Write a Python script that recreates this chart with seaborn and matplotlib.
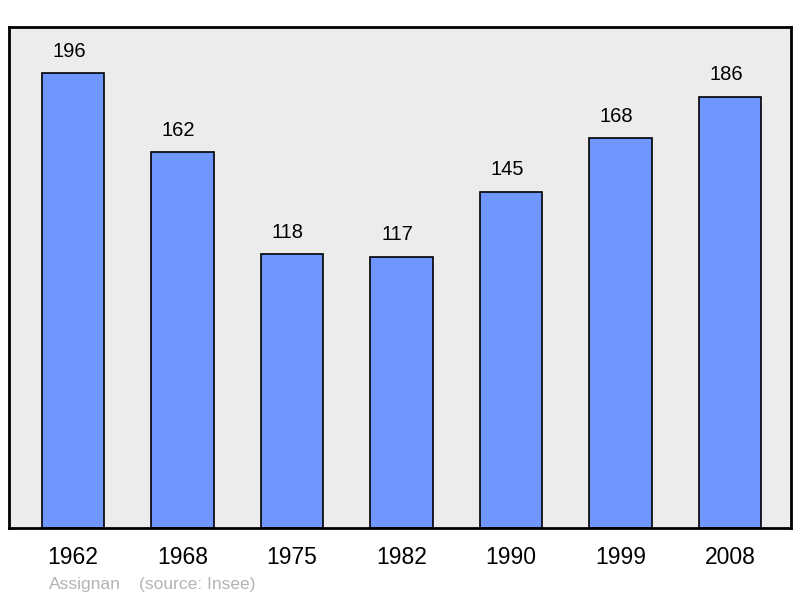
import matplotlib
matplotlib.use("Agg")
import matplotlib.pyplot as plt
import seaborn as sns
import pandas as pd

years = ["1962", "1968", "1975", "1982", "1990", "1999", "2008"]
population = [196, 162, 118, 117, 145, 168, 186]
town = "Assignan"
source = "(source: Insee)"

sns.set_theme(style="white")
plt.rcParams['font.family'] = ['Liberation Sans', 'DejaVu Sans']

df = pd.DataFrame({"year": years, "pop": population})

fig = plt.figure(figsize=(8, 5.98), dpi=100)
ax = fig.add_axes([9/800, 1 - 528/598, 782/800, 501/598])
ax.set_facecolor("#ececec")

sns.barplot(data=df, x="year", y="pop", color="#7097ff", saturation=1,
            width=0.57, edgecolor="black", linewidth=1.2, ax=ax)

for i, v in enumerate(population):
    ax.annotate(str(v), xy=(i, v), xytext=(-3, 16), textcoords="offset points",
                ha="center", va="center", fontsize=14.5, color="black")

ax.set_xlim(-0.585, 6.555)
ax.set_ylim(0, 216)
ax.set_yticks([])
ax.set_xlabel("")
ax.set_ylabel("")
ax.tick_params(axis="x", length=0, pad=13, labelsize=16.5, colors="black")
for s in ax.spines.values():
    s.set_visible(True)
    s.set_color("black")
    s.set_linewidth(2)

fig.text(49/800, 1 - 584/598, town, fontsize=12.5, color="#b4b4b4", va="center", ha="left")
fig.text(139/800, 1 - 584/598, source, fontsize=12.5, color="#b4b4b4", va="center", ha="left")

fig.savefig("out.png", dpi=100)
